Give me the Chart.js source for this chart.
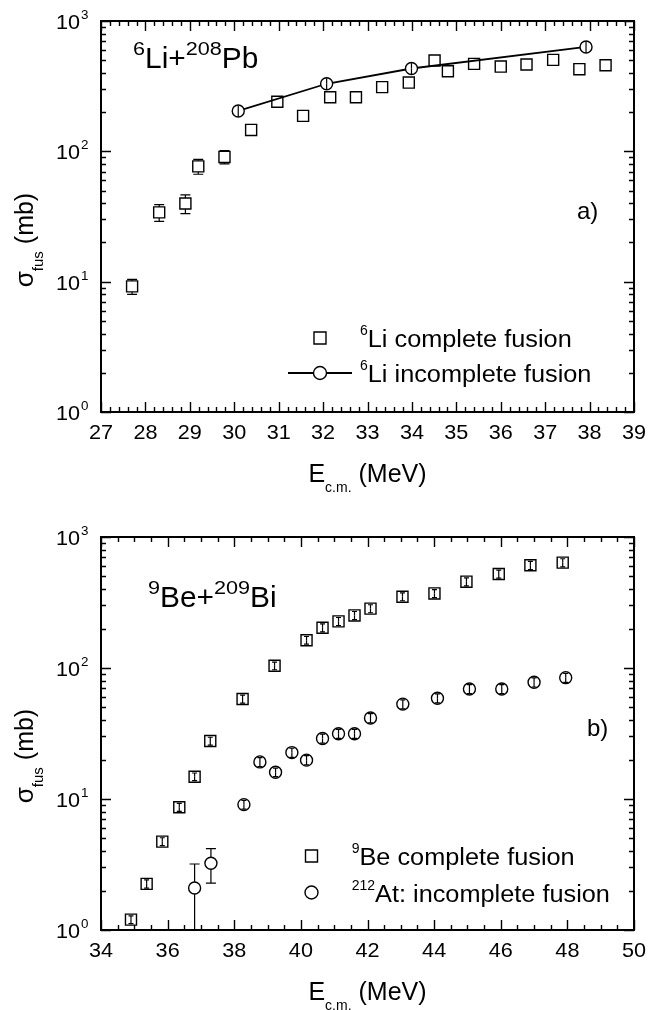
<!DOCTYPE html>
<html lang="en">
<head>
<meta charset="UTF-8">
<title>Fusion cross sections</title>
<script src="https://cdn.jsdelivr.net/npm/chart.js@4.4.1/dist/chart.umd.min.js"></script>
<style>
  body { margin: 0; background: #fff; }
  .panel { position: absolute; left: 0; width: 664px; height: 505px; }
</style>
</head>
<body>
<div class="panel" style="top:0"><canvas id="chartA" width="664" height="505"></canvas></div>
<div class="panel" style="top:505px"><canvas id="chartB" width="664" height="505"></canvas></div>
<script>
// ---- panel a) 6Li + 208Pb ----
const liCfE   = [27.70, 28.31, 28.90, 29.19, 29.78, 30.38, 30.97, 31.55, 32.16, 32.74, 33.33, 33.93, 34.51, 34.81, 35.40, 36.00, 36.58, 37.18, 37.77, 38.36];
const liCfSig = [9.2, 34, 39.8, 76.7, 90.6, 146, 240, 187, 260, 260, 311, 337, 497, 412, 469, 447, 464, 503, 427, 458];
const liCfErr = [1.2, 5, 6.5, 10, 10.5, 0, 0, 0, 0, 0, 0, 0, 0, 0, 0, 0, 0, 0, 0, 0];
const liIcfE   = [30.09, 32.08, 33.99, 37.92];
const liIcfSig = [204, 330, 432, 632];
const liIcfErr = [20, 33, 43, 63];
const ticksA = [27, 28, 29, 30, 31, 32, 33, 34, 35, 36, 37, 38, 39];

// ---- panel b) 9Be + 209Bi ----
const beCfE   = [34.90, 35.37, 35.84, 36.35, 36.81, 37.28, 38.25, 39.21, 40.17, 40.65, 41.13, 41.61, 42.09, 43.05, 44.01, 44.97, 45.94, 46.89, 47.86];
const beCfSig = [1.2, 2.25, 4.73, 8.65, 14.8, 27.7, 58, 104, 163, 203, 227, 252, 284, 350, 371, 456, 522, 608, 637];
const beCfErr = [0.08, 0.16, 0.33, 0.6, 1.0, 1.9, 4, 7, 11, 14, 16, 18, 20, 24, 26, 32, 37, 43, 45];
const atE   = [36.81, 37.30, 38.29, 38.77, 39.24, 39.73, 40.17, 40.65, 41.13, 41.61, 42.09, 43.06, 44.10, 45.06, 46.03, 47.00, 47.95];
const atSig = [2.09, 3.23, 9.06, 19.2, 16, 22.6, 19.8, 29, 31.5, 31.5, 41.5, 53, 58.8, 69.2, 69.2, 77.8, 84.4];
const atErr = [1.1, 0.95, 0.7, 1.5, 1.2, 1.8, 1.6, 2.3, 2.5, 2.5, 3.3, 4.2, 4.7, 5.5, 5.5, 6.2, 6.7];
const ticksB = [34, 36, 38, 40, 42, 44, 46, 48, 50];

const yDecades = [1, 10, 100, 1000];
const FONT = '"Liberation Sans", Arial, sans-serif';

function pts(xs, ys) { return xs.map((x, i) => ({ x: x, y: ys[i] })); }

// draws a run of text pieces (for super/subscripts), optionally stretched
function drawRich(ctx, parts, x, y, align) {
  let total = 0;
  parts.forEach(p => {
    ctx.font = p[1] + 'px ' + FONT;
    p.w = ctx.measureText(p[0]).width * (p[3] || 1);
    total += p.w;
  });
  let cx = align === 'center' ? x - total / 2 : align === 'right' ? x - total : x;
  parts.forEach(p => {
    ctx.save();
    ctx.font = p[1] + 'px ' + FONT;
    ctx.fillStyle = '#000';
    ctx.textAlign = 'left';
    ctx.textBaseline = 'alphabetic';
    ctx.translate(cx, y + (p[2] || 0));
    ctx.scale(p[3] || 1, 1);
    ctx.fillText(p[0], 0, 0);
    ctx.restore();
    cx += p.w;
  });
}

function marker(ctx, style, x, y, r) {
  ctx.save();
  ctx.fillStyle = '#fff';
  ctx.strokeStyle = '#000';
  ctx.lineWidth = 1.4;
  ctx.beginPath();
  if (style === 'rect') ctx.rect(x - r, y - r, 2 * r, 2 * r);
  else ctx.arc(x, y, r, 0, Math.PI * 2);
  ctx.fill();
  ctx.stroke();
  ctx.restore();
}

// error bars: outside the symbol with wide caps, inside it with small ones
const errorBars = {
  id: 'errorBars',
  afterDatasetsDraw(chart) {
    const ctx = chart.ctx, xs = chart.scales.x, ys = chart.scales.y, a = chart.chartArea;
    ctx.save();
    ctx.beginPath();
    ctx.rect(a.left, a.top, a.right - a.left, a.bottom - a.top);
    ctx.clip();
    ctx.strokeStyle = '#000';
    ctx.lineWidth = 1.2;
    chart.data.datasets.forEach(ds => {
      if (!ds.errors) return;
      const half = ds.pointStyle === 'rect' ? ds.pointRadius * Math.SQRT1_2 : ds.pointRadius;
      ds.data.forEach((p, i) => {
        const e = ds.errors[i];
        if (!e) return;
        const x = xs.getPixelForValue(p.x);
        const yc = ys.getPixelForValue(p.y);
        const yt = ys.getPixelForValue(p.y + e);
        const yb = p.y - e > 0 ? ys.getPixelForValue(p.y - e) : a.bottom + 10;
        [[yt, -1], [yb, 1]].forEach(([ye, dir]) => {
          const outside = Math.abs(ye - yc) > half;
          const cap = outside ? 5 : (ds.innerCap || 0);
          ctx.beginPath();
          ctx.moveTo(x, outside ? yc + dir * half : yc);
          ctx.lineTo(x, ye);
          if (cap) { ctx.moveTo(x - cap, ye); ctx.lineTo(x + cap, ye); }
          ctx.stroke();
        });
      });
    });
    ctx.restore();
  }
};

// frame, inward ticks, tick labels, titles, legend and panel labels
const frame = {
  id: 'frame',
  afterDraw(chart) {
    const o = chart.options.plugins.frame;
    const ctx = chart.ctx, xs = chart.scales.x, ys = chart.scales.y;
    const { left, right, top, bottom } = chart.chartArea;
    ctx.save();
    ctx.strokeStyle = '#000';
    ctx.lineWidth = 1.4;
    ctx.beginPath();
    const nMinor = Math.round((o.xMax - o.xMin) / o.xMinorStep);
    for (let i = 0; i <= nMinor; i++) {
      const v = o.xMin + i * o.xMinorStep;
      const px = Math.round(xs.getPixelForValue(v)) + 0.5;
      const major = i % o.minorPerMajor === 0;
      const len = major ? 10 : 5;
      ctx.moveTo(px, bottom); ctx.lineTo(px, bottom - len);
      ctx.moveTo(px, top); ctx.lineTo(px, top + len);
    }
    yDecades.forEach((d, k) => {
      for (let m = 1; m <= 9; m++) {
        if (k === yDecades.length - 1 && m > 1) break;
        const py = Math.round(ys.getPixelForValue(d * m)) + 0.5;
        const len = m === 1 ? 10 : 5;
        ctx.moveTo(left, py); ctx.lineTo(left + len, py);
        ctx.moveTo(right, py); ctx.lineTo(right - len, py);
      }
    });
    ctx.stroke();
    ctx.lineWidth = 2;
    ctx.strokeRect(left, top, right - left, bottom - top);

    // tick labels
    o.ticks.forEach(t => {
      drawRich(ctx, [[String(t), 21, 0, 1.03]], xs.getPixelForValue(t), bottom + 27, 'center');
    });
    yDecades.forEach((d, k) => {
      const py = ys.getPixelForValue(d);
      drawRich(ctx, [['10', 21, 0, 1.03]], left - 21, py + 8, 'right');
      drawRich(ctx, [[String(k), 13, 0, 1.03]], left - 20, py - 2, 'left');
    });

    // axis titles
    drawRich(ctx, [['E', 25, 0], ['c.m.', 14, 10], [' (MeV)', 25, 0]], (left + right) / 2, bottom + 70, 'center');
    ctx.save();
    ctx.translate(33, top + 219);
    ctx.rotate(-Math.PI / 2);
    drawRich(ctx, [['\u03c3', 26, 0], ['fus', 15, 10], [' (mb)', 25, 0]], 0, 0, 'center');
    ctx.restore();

    // panel label
    drawRich(ctx, o.title, o.titlePos[0], o.titlePos[1], 'left');
    drawRich(ctx, [[o.letter, 24, 0, 1.0]], o.letterPos[0], o.letterPos[1], 'left');

    // legend
    o.legend.forEach(l => {
      if (l.line) {
        ctx.lineWidth = 1.8;
        ctx.beginPath();
        ctx.moveTo(l.mx - 32, l.my); ctx.lineTo(l.mx + 32, l.my);
        ctx.stroke();
      }
      marker(ctx, l.style, l.mx, l.my, l.style === 'rect' ? 6 : 6.5);
      drawRich(ctx, l.text, l.tx, l.ty, 'left');
    });
    ctx.restore();
  }
};

function makeChart(id, datasets, o) {
  return new Chart(document.getElementById(id), {
    type: 'scatter',
    data: { datasets: datasets },
    options: {
      responsive: false,
      animation: false,
      devicePixelRatio: 1,
      layout: { padding: { left: 0, right: 30, top: o.padTop, bottom: 0 } },
      scales: {
        x: {
          type: 'linear', min: o.xMin, max: o.xMax,
          grid: { display: false }, border: { display: false },
          ticks: { display: false },
          afterFit: s => { s.height = o.xAxisH; }
        },
        y: {
          type: 'logarithmic', min: 1, max: 1000,
          grid: { display: false }, border: { display: false },
          ticks: { display: false },
          afterFit: s => { s.width = 101; }
        }
      },
      plugins: { legend: { display: false }, tooltip: { enabled: false }, frame: o }
    },
    plugins: [errorBars, frame]
  });
}

const sq = { pointStyle: 'rect', pointRadius: 7.8, pointBackgroundColor: '#fff', pointBorderColor: '#000', pointBorderWidth: 1.4, showLine: false };
const ci = { pointStyle: 'circle', pointRadius: 6, pointBackgroundColor: '#fff', pointBorderColor: '#000', pointBorderWidth: 1.4 };

makeChart('chartA', [
  Object.assign({ label: '6Li incomplete fusion', data: pts(liIcfE, liIcfSig), errors: liIcfErr, innerCap: 0,
    showLine: true, borderColor: '#000', borderWidth: 1.8, tension: 0 }, ci),
  Object.assign({ label: '6Li complete fusion', data: pts(liCfE, liCfSig), errors: liCfErr, innerCap: 2.5 }, sq)
], {
  xMin: 27, xMax: 39, xMinorStep: 0.2, minorPerMajor: 5, ticks: ticksA,
  padTop: 21, xAxisH: 93,
  title: [['6', 18, -13, 1.2], ['Li+', 29, 0, 1.03], ['208', 18, -13, 1.2], ['Pb', 29, 0, 1.03]],
  titlePos: [133, 68],
  letter: 'a)', letterPos: [577, 219],
  legend: [
    { style: 'rect', mx: 320, my: 338, text: [['6', 14, -12], ['Li complete fusion', 23, 0, 1.1]], tx: 360, ty: 346.7 },
    { style: 'circle', line: true, mx: 320, my: 373, text: [['6', 14, -12], ['Li incomplete fusion', 23, 0, 1.1]], tx: 360, ty: 381.7 }
  ]
});

makeChart('chartB', [
  Object.assign({ label: '212At: incomplete fusion', data: pts(atE, atSig), errors: atErr, innerCap: 2.5, showLine: false }, ci),
  Object.assign({ label: '9Be complete fusion', data: pts(beCfE, beCfSig), errors: beCfErr, innerCap: 2.5 }, sq)
], {
  xMin: 34, xMax: 50, xMinorStep: 0.5, minorPerMajor: 4, ticks: ticksB,
  padTop: 32, xAxisH: 80,
  title: [['9', 18, -13, 1.2], ['Be+', 29, 0, 1.03], ['209', 18, -13, 1.2], ['Bi', 29, 0, 1.03]],
  titlePos: [148, 101.7],
  letter: 'b)', letterPos: [587, 231],
  legend: [
    { style: 'rect', mx: 311.5, my: 351, text: [['9', 14, -12], ['Be complete fusion', 23, 0, 1.1]], tx: 351.7, ty: 360 },
    { style: 'circle', mx: 311.5, my: 387.5, text: [['212', 14, -12], ['At: incomplete fusion', 23, 0, 1.1]], tx: 351.7, ty: 396.7 }
  ]
});
</script>
</body>
</html>
